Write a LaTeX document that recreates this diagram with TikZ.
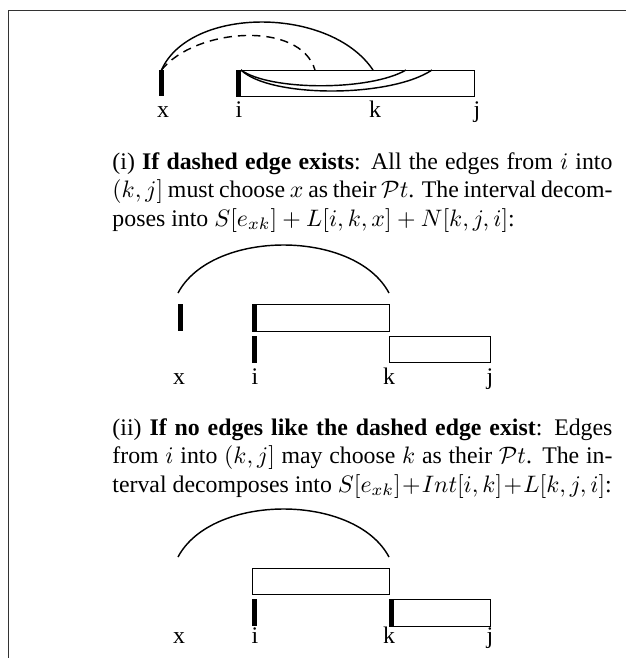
\documentclass[tikz,border=0pt]{standalone}
\usepackage{fontspec}
\setmainfont{Liberation Serif}
\usetikzlibrary{positioning}
\begin{document}
\begin{tikzpicture}[x=0.42pt,y=-0.42pt,
  bar/.style={fill=black},
  seg/.style={draw,line width=0.4pt},
  arc/.style={line width=0.6pt},
  lbl/.style={anchor=base,inner sep=0pt},
  para/.style={anchor=north west,inner sep=0pt,text width=210pt,align=justify,
    execute at begin node={\spaceskip=0.25em plus 0.2em minus 0.12em}}]
  \useasboundingbox (0,0) rectangle (626,658);
  \draw[black!80,line width=0.8pt] (626,10.5) -- (8.5,10.5) -- (8.5,658);
  % top: one edge from x, a dashed one, and edges from i into (k,j]
  \coordinate (x1) at (161.5,70);
  \coordinate (i1) at (241,70);
  \coordinate (k1) at (373,70);
  \coordinate (d1) at (315,70);
  \coordinate (e1) at (406,70);
  \coordinate (f1) at (432,70);
  \draw[seg] (236,70) rectangle (474,96);
  \fill[bar] (159,70) rectangle (164,96);
  \fill[bar] (236,70) rectangle (241,96);
  \draw[arc] (x1) .. controls (190,6) and (330,6) .. (k1);
  \draw[arc,dash pattern=on 3.5pt off 2.5pt] (x1) .. controls (195,28) and (300,20) .. (d1);
  \draw[arc] (i1) .. controls (270,91) and (370,91) .. (e1);
  \draw[arc] (i1) .. controls (270,98) and (390,98) .. (f1);
  \foreach \n/\p in {x/163,i/239,k/375,j/477}
    \node[lbl] (l1\n) at (\p,117) {\n};
  \node[para] (txt1) at (112,152) {(i) \textbf{If dashed edge exists}: All the edges from $i$ into\linebreak
    $(k,j]$ must choose $x$ as their $\mathcal{P}t$. The interval decom-\linebreak
    poses into $S[e_{xk}]+L[i,k,x]+N[k,j,i]$:};
  % case (i)
  \coordinate (x2) at (178,293);
  \coordinate (k2) at (389,293);
  \draw[arc] (x2) .. controls (212,229) and (355,229) .. (k2);
  \fill[bar] (178,304) rectangle (183,331);
  \draw[seg] (252,304) rectangle (389,331);
  \fill[bar] (252,304) rectangle (257.5,331);
  \fill[bar] (252,336) rectangle (257.5,363);
  \draw[seg] (389,336) rectangle (490,362);
  \foreach \n/\p in {x/179,i/255,k/389,j/490}
    \node[lbl] (l2\n) at (\p,384) {\n};
  \node[para] (txt2) at (112,418) {(ii) \textbf{If no edges like the dashed edge exist}: Edges\linebreak
    from $i$ into $(k,j]$ may choose $k$ as their $\mathcal{P}t$. The in-\linebreak
    terval decomposes into $S[e_{xk}]\!+\!Int[i,k]\!+\!L[k,j,i]$:};
  % case (ii)
  \coordinate (x3) at (178,557);
  \coordinate (k3) at (389,557);
  \draw[arc] (x3) .. controls (212,493) and (355,493) .. (k3);
  \draw[seg] (252,568) rectangle (389,594);
  \fill[bar] (252,599) rectangle (257.5,626);
  \fill[bar] (389,599) rectangle (394.5,626);
  \draw[seg] (389,599) rectangle (490,626);
  \foreach \n/\p in {x/179,i/255,k/389,j/490}
    \node[lbl] (l3\n) at (\p,643) {\n};
\end{tikzpicture}
\end{document}
